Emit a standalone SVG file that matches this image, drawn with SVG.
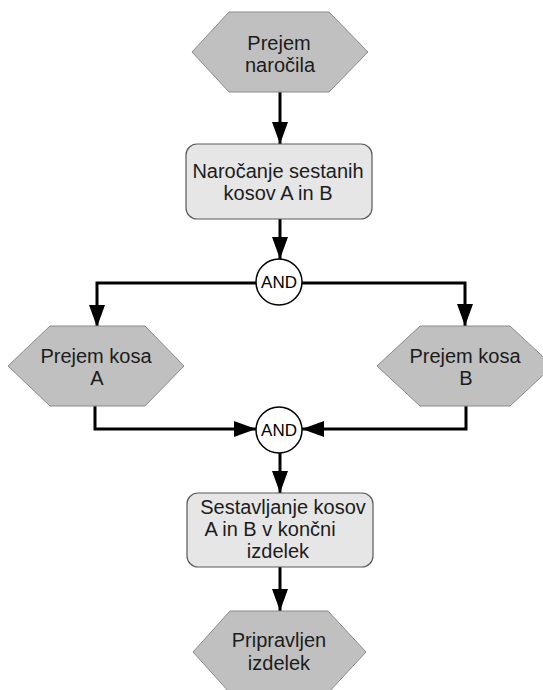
<svg xmlns="http://www.w3.org/2000/svg" width="543" height="690" viewBox="0 0 543 690">
  <style>
    .hex { fill: #c0c0c0; stroke: #8a8a8a; stroke-width: 1; }
    .task { fill: #e6e6e6; stroke: #5a5a5a; stroke-width: 1.2; }
    .gate { fill: #ffffff; stroke: #000000; stroke-width: 1.5; }
    .lbl { font-family: "Liberation Sans", Arial, sans-serif; font-size: 20px; fill: #1c1c1c; text-anchor: middle; }
    .gl { font-family: "Liberation Sans", Arial, sans-serif; font-size: 17px; fill: #000000; text-anchor: middle; }
    .flow { fill: none; stroke: #000000; stroke-width: 3; }
  </style>
  <defs>
    <marker id="arrow" markerUnits="userSpaceOnUse" markerWidth="22" markerHeight="16" refX="22" refY="8" orient="auto">
      <path d="M0,0 L22,8 L0,16 Z" fill="#000000"/>
    </marker>
  </defs>
  <rect width="543" height="690" fill="#ffffff"/>

  <!-- connectors -->
  <g id="connectors">
    <path class="flow" d="M280,92 V144" marker-end="url(#arrow)"/>
    <path class="flow" d="M280,219 V259" marker-end="url(#arrow)"/>
    <path class="flow" d="M256,283 H97 V327" marker-end="url(#arrow)"/>
    <path class="flow" d="M302,283 H465 V326" marker-end="url(#arrow)"/>
    <path class="flow" d="M95,406 V429 H256" marker-end="url(#arrow)"/>
    <path class="flow" d="M466,406 V429 H302" marker-end="url(#arrow)"/>
    <path class="flow" d="M280,453 V493" marker-end="url(#arrow)"/>
    <path class="flow" d="M280,567 V611" marker-end="url(#arrow)"/>
  </g>

  <!-- start event -->
  <g id="prejem-narocila">
    <polygon class="hex" points="192,52 229,12 329,12 368,52 329,92 229,92"/>
    <text class="lbl" x="279" y="50">Prejem</text>
    <text class="lbl" x="280" y="72">naročila</text>
  </g>

  <g id="narocanje">
    <rect class="task" x="186" y="144" width="186" height="75" rx="11"/>
    <text class="lbl" x="278" y="178">Naročanje sestanih</text>
    <text class="lbl" x="278" y="200">kosov A in B</text>
  </g>

  <g id="and-split">
    <circle class="gate" cx="279" cy="282" r="23"/>
    <text class="gl" x="279" y="288">AND</text>
  </g>

  <g id="prejem-kosa-a">
    <polygon class="hex" points="8,366 50,326 145,326 184,366 145,406 50,406"/>
    <text class="lbl" x="96" y="363">Prejem kosa</text>
    <text class="lbl" x="97" y="385">A</text>
  </g>

  <g id="prejem-kosa-b">
    <polygon class="hex" points="377,366 420,326 510,326 553,366 510,406 420,406"/>
    <text class="lbl" x="465" y="363">Prejem kosa</text>
    <text class="lbl" x="466" y="385">B</text>
  </g>

  <g id="and-join">
    <circle class="gate" cx="279" cy="430" r="23"/>
    <text class="gl" x="279" y="436">AND</text>
  </g>

  <g id="sestavljanje">
    <rect class="task" x="187" y="493" width="186" height="74" rx="11"/>
    <text class="lbl" x="283" y="514">Sestavljanje kosov</text>
    <text class="lbl" x="270" y="536">A in B v končni</text>
    <text class="lbl" x="278" y="558">izdelek</text>
  </g>

  <!-- end event -->
  <g id="pripravljen-izdelek">
    <polygon class="hex" points="193,652 230,611 328,611 366,652 328,693 230,693"/>
    <text class="lbl" x="279" y="647">Pripravljen</text>
    <text class="lbl" x="279" y="670">izdelek</text>
  </g>
</svg>
